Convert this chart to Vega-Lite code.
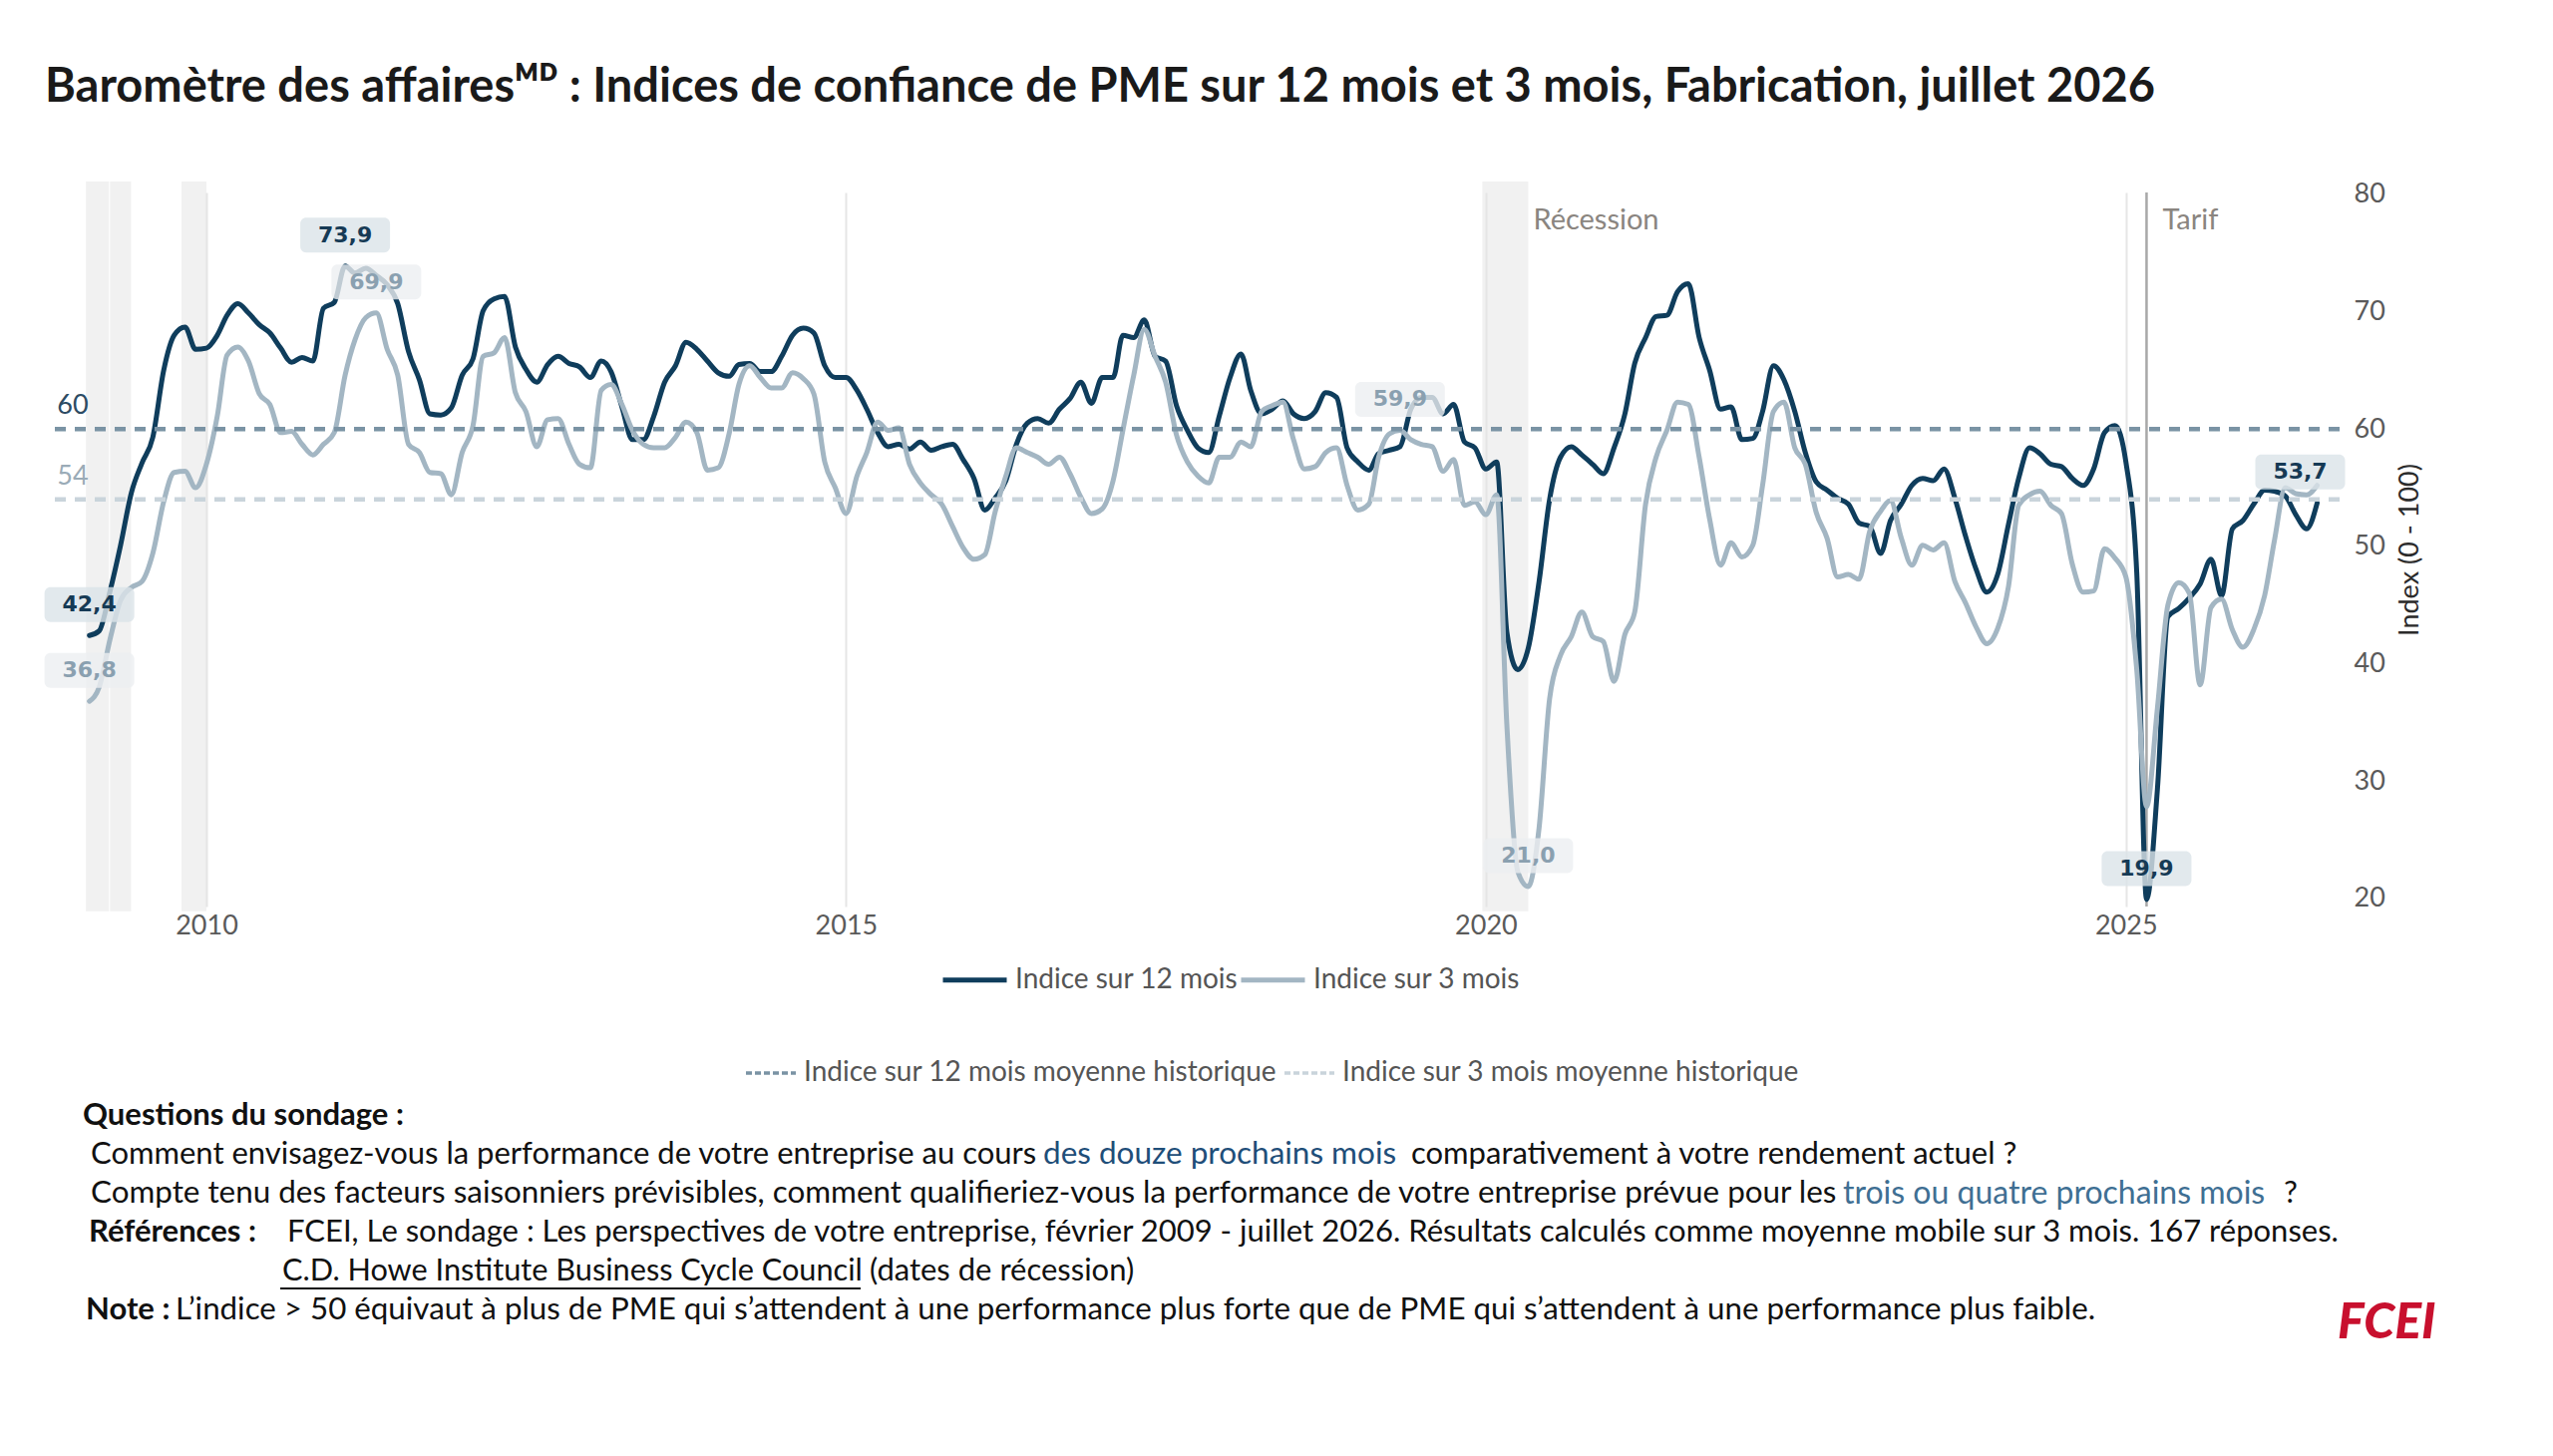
{
  "$schema": "https://vega.github.io/schema/vega-lite/v6.json",
  "background": "white",
  "padding": {"left": 44, "top": 63, "right": 10, "bottom": 10},
  "title": {
    "text": "Baromètre des affairesᴹᴰ : Indices de confiance de PME sur 12 mois et 3 mois, Fabrication, juillet 2026",
    "anchor": "start",
    "frame": "group",
    "dx": -6,
    "offset": 32,
    "baseline": "alphabetic",
    "font": "Lato",
    "fontSize": 47,
    "fontWeight": "bold",
    "color": "#1a1a1a"
  },
  "config": {
    "view": {"stroke": null},
    "font": "Lato",
    "locale": {"number": {"decimal": ",", "thousands": " ", "grouping": [3], "currency": ["", " $"]}}
  },
  "datasets": {
    "idx": [
      {"d":"2009-02-01","m12":42.4,"m3":36.8},{"d":"2009-03-01","m12":42.8,"m3":38.0},{"d":"2009-04-01","m12":46.2,"m3":42.1},
      {"d":"2009-05-01","m12":50.1,"m3":45.4},{"d":"2009-06-01","m12":54.6,"m3":46.5},{"d":"2009-07-01","m12":57.1,"m3":47.0},
      {"d":"2009-08-01","m12":59.3,"m3":49.4},{"d":"2009-09-01","m12":65.0,"m3":53.8},{"d":"2009-10-01","m12":68.0,"m3":56.3},
      {"d":"2009-11-01","m12":68.7,"m3":56.4},{"d":"2009-12-01","m12":66.8,"m3":55.0},{"d":"2010-01-01","m12":66.9,"m3":57.0},
      {"d":"2010-02-01","m12":68.0,"m3":61.1},{"d":"2010-03-01","m12":69.7,"m3":66.3},{"d":"2010-04-01","m12":70.7,"m3":67.0},
      {"d":"2010-05-01","m12":69.9,"m3":65.8},{"d":"2010-06-01","m12":68.9,"m3":63.0},{"d":"2010-07-01","m12":68.2,"m3":62.1},
      {"d":"2010-08-01","m12":66.9,"m3":59.7},{"d":"2010-09-01","m12":65.7,"m3":59.8},{"d":"2010-10-01","m12":66.1,"m3":58.7},
      {"d":"2010-11-01","m12":65.8,"m3":57.8},{"d":"2010-12-01","m12":70.3,"m3":58.7},{"d":"2011-01-01","m12":70.8,"m3":59.7},
      {"d":"2011-02-01","m12":73.9,"m3":64.6},{"d":"2011-03-01","m12":73.3,"m3":67.6},{"d":"2011-04-01","m12":73.7,"m3":69.5},
      {"d":"2011-05-01","m12":73.1,"m3":69.9},{"d":"2011-06-01","m12":72.3,"m3":66.8},{"d":"2011-07-01","m12":70.7,"m3":64.6},
      {"d":"2011-08-01","m12":66.6,"m3":58.7},{"d":"2011-09-01","m12":64.2,"m3":58.0},{"d":"2011-10-01","m12":61.3,"m3":56.3},
      {"d":"2011-11-01","m12":61.2,"m3":56.2},{"d":"2011-12-01","m12":61.8,"m3":54.4},{"d":"2012-01-01","m12":64.6,"m3":58.0},
      {"d":"2012-02-01","m12":66.0,"m3":60.3},{"d":"2012-03-01","m12":70.1,"m3":66.2},{"d":"2012-04-01","m12":71.1,"m3":66.5},
      {"d":"2012-05-01","m12":71.3,"m3":67.8},{"d":"2012-06-01","m12":67.0,"m3":63.1},{"d":"2012-07-01","m12":65.1,"m3":61.5},
      {"d":"2012-08-01","m12":64.0,"m3":58.5},{"d":"2012-09-01","m12":65.5,"m3":60.8},{"d":"2012-10-01","m12":66.2,"m3":60.9},
      {"d":"2012-11-01","m12":65.6,"m3":58.7},{"d":"2012-12-01","m12":65.3,"m3":57.0},{"d":"2013-01-01","m12":64.4,"m3":56.7},
      {"d":"2013-02-01","m12":65.8,"m3":63.3},{"d":"2013-03-01","m12":64.9,"m3":63.8},{"d":"2013-04-01","m12":61.9,"m3":62.1},
      {"d":"2013-05-01","m12":59.1,"m3":59.9},{"d":"2013-06-01","m12":59.1,"m3":58.7},{"d":"2013-07-01","m12":61.1,"m3":58.4},
      {"d":"2013-08-01","m12":64.0,"m3":58.4},{"d":"2013-09-01","m12":65.4,"m3":59.3},{"d":"2013-10-01","m12":67.4,"m3":60.6},
      {"d":"2013-11-01","m12":66.8,"m3":59.7},{"d":"2013-12-01","m12":65.8,"m3":56.5},{"d":"2014-01-01","m12":64.8,"m3":56.7},
      {"d":"2014-02-01","m12":64.5,"m3":59.6},{"d":"2014-03-01","m12":65.5,"m3":63.8},{"d":"2014-04-01","m12":65.6,"m3":65.4},
      {"d":"2014-05-01","m12":64.9,"m3":64.4},{"d":"2014-06-01","m12":64.9,"m3":63.5},{"d":"2014-07-01","m12":66.2,"m3":63.5},
      {"d":"2014-08-01","m12":68.0,"m3":64.8},{"d":"2014-09-01","m12":68.6,"m3":64.3},{"d":"2014-10-01","m12":68.2,"m3":63.0},
      {"d":"2014-11-01","m12":65.4,"m3":57.2},{"d":"2014-12-01","m12":64.4,"m3":55.0},{"d":"2015-01-01","m12":64.4,"m3":52.8},
      {"d":"2015-02-01","m12":63.3,"m3":56.0},{"d":"2015-03-01","m12":61.7,"m3":58.0},{"d":"2015-04-01","m12":59.7,"m3":60.6},
      {"d":"2015-05-01","m12":58.5,"m3":59.9},{"d":"2015-06-01","m12":58.7,"m3":60.1},{"d":"2015-07-01","m12":58.3,"m3":57.0},
      {"d":"2015-08-01","m12":58.9,"m3":55.4},{"d":"2015-09-01","m12":58.2,"m3":54.4},{"d":"2015-10-01","m12":58.5,"m3":53.6},
      {"d":"2015-11-01","m12":58.7,"m3":51.7},{"d":"2015-12-01","m12":57.4,"m3":49.9},{"d":"2016-01-01","m12":55.8,"m3":48.9},
      {"d":"2016-02-01","m12":53.1,"m3":49.3},{"d":"2016-03-01","m12":54.1,"m3":52.9},{"d":"2016-04-01","m12":55.6,"m3":56.0},
      {"d":"2016-05-01","m12":58.7,"m3":58.4},{"d":"2016-06-01","m12":60.5,"m3":58.0},{"d":"2016-07-01","m12":60.9,"m3":57.6},
      {"d":"2016-08-01","m12":60.5,"m3":57.0},{"d":"2016-09-01","m12":61.7,"m3":57.6},{"d":"2016-10-01","m12":62.6,"m3":56.2},
      {"d":"2016-11-01","m12":64.0,"m3":54.2},{"d":"2016-12-01","m12":62.2,"m3":52.8},{"d":"2017-01-01","m12":64.4,"m3":53.2},
      {"d":"2017-02-01","m12":64.4,"m3":55.6},{"d":"2017-03-01","m12":68.0,"m3":59.9},{"d":"2017-04-01","m12":67.8,"m3":64.6},
      {"d":"2017-05-01","m12":69.3,"m3":68.5},{"d":"2017-06-01","m12":66.2,"m3":66.2},{"d":"2017-07-01","m12":65.8,"m3":64.0},
      {"d":"2017-08-01","m12":62.0,"m3":59.5},{"d":"2017-09-01","m12":59.9,"m3":57.2},{"d":"2017-10-01","m12":58.4,"m3":56.0},
      {"d":"2017-11-01","m12":58.0,"m3":55.4},{"d":"2017-12-01","m12":61.1,"m3":57.6},{"d":"2018-01-01","m12":64.4,"m3":57.6},
      {"d":"2018-02-01","m12":66.4,"m3":58.9},{"d":"2018-03-01","m12":63.3,"m3":58.5},{"d":"2018-04-01","m12":61.3,"m3":61.5},
      {"d":"2018-05-01","m12":61.7,"m3":62.0},{"d":"2018-06-01","m12":62.4,"m3":62.3},{"d":"2018-07-01","m12":61.3,"m3":59.1},
      {"d":"2018-08-01","m12":60.9,"m3":56.6},{"d":"2018-09-01","m12":61.5,"m3":56.8},{"d":"2018-10-01","m12":63.1,"m3":58.0},
      {"d":"2018-11-01","m12":62.7,"m3":58.4},{"d":"2018-12-01","m12":58.4,"m3":55.2},{"d":"2019-01-01","m12":57.2,"m3":53.1},
      {"d":"2019-02-01","m12":56.5,"m3":53.6},{"d":"2019-03-01","m12":57.9,"m3":57.6},{"d":"2019-04-01","m12":58.2,"m3":59.6},
      {"d":"2019-05-01","m12":58.5,"m3":59.9},{"d":"2019-06-01","m12":61.7,"m3":59.1},{"d":"2019-07-01","m12":62.7,"m3":58.7},
      {"d":"2019-08-01","m12":62.7,"m3":58.5},{"d":"2019-09-01","m12":61.3,"m3":56.4},{"d":"2019-10-01","m12":62.1,"m3":57.4},
      {"d":"2019-11-01","m12":58.9,"m3":53.5},{"d":"2019-12-01","m12":58.4,"m3":53.8},{"d":"2020-01-01","m12":56.6,"m3":52.7},
      {"d":"2020-02-01","m12":57.2,"m3":54.4},{"d":"2020-03-01","m12":42.7,"m3":34.8},{"d":"2020-04-01","m12":39.5,"m3":22.3},
      {"d":"2020-05-01","m12":41.3,"m3":21.0},{"d":"2020-06-01","m12":47.0,"m3":26.0},{"d":"2020-07-01","m12":54.0,"m3":37.0},
      {"d":"2020-08-01","m12":57.6,"m3":40.7},{"d":"2020-09-01","m12":58.5,"m3":42.3},{"d":"2020-10-01","m12":57.8,"m3":44.4},
      {"d":"2020-11-01","m12":57.0,"m3":42.3},{"d":"2020-12-01","m12":56.2,"m3":41.9},{"d":"2021-01-01","m12":58.4,"m3":38.5},
      {"d":"2021-02-01","m12":61.3,"m3":42.5},{"d":"2021-03-01","m12":65.6,"m3":44.4},{"d":"2021-04-01","m12":67.8,"m3":53.6},
      {"d":"2021-05-01","m12":69.6,"m3":57.6},{"d":"2021-06-01","m12":69.7,"m3":59.9},{"d":"2021-07-01","m12":71.7,"m3":62.3},
      {"d":"2021-08-01","m12":72.4,"m3":62.1},{"d":"2021-09-01","m12":67.8,"m3":57.6},{"d":"2021-10-01","m12":65.0,"m3":52.3},
      {"d":"2021-11-01","m12":61.7,"m3":48.4},{"d":"2021-12-01","m12":61.9,"m3":50.3},{"d":"2022-01-01","m12":59.1,"m3":49.1},
      {"d":"2022-02-01","m12":59.2,"m3":50.1},{"d":"2022-03-01","m12":61.5,"m3":55.2},{"d":"2022-04-01","m12":65.4,"m3":61.5},
      {"d":"2022-05-01","m12":64.2,"m3":62.3},{"d":"2022-06-01","m12":61.5,"m3":58.4},{"d":"2022-07-01","m12":58.0,"m3":57.0},
      {"d":"2022-08-01","m12":55.5,"m3":52.9},{"d":"2022-09-01","m12":54.8,"m3":50.7},{"d":"2022-10-01","m12":54.1,"m3":47.4},
      {"d":"2022-11-01","m12":53.6,"m3":47.6},{"d":"2022-12-01","m12":52.0,"m3":47.2},{"d":"2023-01-01","m12":51.7,"m3":51.3},
      {"d":"2023-02-01","m12":49.4,"m3":53.0},{"d":"2023-03-01","m12":52.2,"m3":53.9},{"d":"2023-04-01","m12":53.6,"m3":50.7},
      {"d":"2023-05-01","m12":55.2,"m3":48.4},{"d":"2023-06-01","m12":55.8,"m3":50.1},{"d":"2023-07-01","m12":55.6,"m3":49.7},
      {"d":"2023-08-01","m12":56.6,"m3":50.3},{"d":"2023-09-01","m12":54.1,"m3":47.0},{"d":"2023-10-01","m12":50.9,"m3":45.2},
      {"d":"2023-11-01","m12":48.0,"m3":43.1},{"d":"2023-12-01","m12":46.1,"m3":41.7},{"d":"2024-01-01","m12":47.6,"m3":43.0},
      {"d":"2024-02-01","m12":51.9,"m3":46.6},{"d":"2024-03-01","m12":55.8,"m3":53.5},{"d":"2024-04-01","m12":58.4,"m3":54.4},
      {"d":"2024-05-01","m12":57.9,"m3":54.7},{"d":"2024-06-01","m12":57.0,"m3":53.5},{"d":"2024-07-01","m12":56.8,"m3":52.8},
      {"d":"2024-08-01","m12":55.8,"m3":48.5},{"d":"2024-09-01","m12":55.2,"m3":46.1},{"d":"2024-10-01","m12":56.6,"m3":46.2},
      {"d":"2024-11-01","m12":59.7,"m3":49.8},{"d":"2024-12-01","m12":60.3,"m3":49.0},{"d":"2025-01-01","m12":57.2,"m3":47.4},
      {"d":"2025-02-01","m12":47.8,"m3":39.5},{"d":"2025-03-01","m12":19.9,"m3":27.8},{"d":"2025-04-01","m12":29.3,"m3":36.2},
      {"d":"2025-05-01","m12":44.0,"m3":45.0},{"d":"2025-06-01","m12":44.7,"m3":46.9},{"d":"2025-07-01","m12":45.6,"m3":46.0},
      {"d":"2025-08-01","m12":46.8,"m3":38.2},{"d":"2025-09-01","m12":48.9,"m3":44.8},{"d":"2025-10-01","m12":45.8,"m3":45.5},
      {"d":"2025-11-01","m12":51.5,"m3":42.9},{"d":"2025-12-01","m12":52.2,"m3":41.4},{"d":"2026-01-01","m12":53.6,"m3":42.9},
      {"d":"2026-02-01","m12":54.8,"m3":45.8},{"d":"2026-03-01","m12":54.7,"m3":50.5},{"d":"2026-04-01","m12":54.3,"m3":55.0},
      {"d":"2026-05-01","m12":52.7,"m3":54.5},{"d":"2026-06-01","m12":51.5,"m3":54.4},{"d":"2026-07-01","m12":53.7,"m3":55.2}
    ],
    "rec": [
      {"start":"2009-01-22","end":"2009-03-29"},
      {"start":"2009-04-01","end":"2009-05-31"},
      {"start":"2009-10-22","end":"2010-01-01"},
      {"start":"2019-12-22","end":"2020-05-01"}
    ],
    "refs": [
      {"ref":"Indice sur 12 mois moyenne historique","v":60},
      {"ref":"Indice sur 3 mois moyenne historique","v":54}
    ],
    "events": [
      {"d":"2020-05-01","txt":"Récession"},
      {"d":"2025-03-01","txt":"Tarif"}
    ],
    "labels": [
      {"d":"2009-02-01","s":"m12","v":42.4},
      {"d":"2009-02-01","s":"m3","v":36.8},
      {"d":"2011-02-01","s":"m12","v":73.9},
      {"d":"2011-05-01","s":"m3","v":69.9},
      {"d":"2019-05-01","s":"m3","v":59.9},
      {"d":"2020-05-01","s":"m3","v":21.0},
      {"d":"2025-03-01","s":"m12","v":19.9},
      {"d":"2026-07-01","s":"m12","v":53.7}
    ],
    "notes": [
      {"k":"q","row":0,"t":"Questions du sondage :"},
      {"k":"c1","row":1,"t":"Comment envisagez-vous la performance de votre entreprise au cours"},
      {"k":"b1","row":1,"t":"des douze prochains mois"},
      {"k":"c2","row":1,"t":"comparativement à votre rendement actuel ?"},
      {"k":"d1","row":2,"t":"Compte tenu des facteurs saisonniers prévisibles, comment qualifieriez-vous la performance  de votre entreprise prévue pour les"},
      {"k":"b2","row":2,"t":"trois ou quatre prochains mois"},
      {"k":"d2","row":2,"t":"?"},
      {"k":"r","row":3,"t":"Références :"},
      {"k":"r2","row":3,"t":"FCEI, Le sondage : Les perspectives de votre entreprise, février 2009 - juillet 2026. Résultats calculés comme moyenne mobile sur 3 mois. 167 réponses."},
      {"k":"h","row":4,"t":"C.D. Howe Institute Business Cycle Council"},
      {"k":"h2","row":4,"t":"(dates de récession)"},
      {"k":"n","row":5,"t":"Note :"},
      {"k":"n2","row":5,"t":"L’indice > 50 équivaut à plus de PME qui s’attendent à une performance plus forte que de PME qui s’attendent à une performance plus faible."},
      {"k":"logo","row":5,"t":"FCEI"}
    ]
  },
  "spacing": 13,
  "resolve": {"legend": {"color": "independent"}},
  "vconcat": [
    {
      "width": 2295,
      "height": 716,
      "resolve": {"scale": {"color": "independent"}, "legend": {"color": "independent"}},
      "layer": [
        {
          "data": {"name": "rec"},
          "mark": {"type": "rect", "fill": "#e4e4e4", "opacity": 0.5},
          "encoding": {
            "x": {"field": "start", "type": "temporal", "title": null, "scale": {"domain": [{"year":2008,"month":10,"date":14},{"year":2026,"month":9,"date":3}]}},
            "x2": {"field": "end"},
            "y": {"datum": 81.1, "type": "quantitative", "scale": {"domain": [19.3, 80.17]}},
            "y2": {"datum": 18.9}
          }
        },
        {
          "data": {"name": "events"},
          "transform": [{"filter": "datum.txt == 'Tarif'"}],
          "mark": {"type": "rule", "color": "#a8a8a8", "strokeWidth": 2.5},
          "encoding": {
            "x": {"field": "d", "type": "temporal", "title": null, "scale": {"domain": [{"year":2008,"month":10,"date":14},{"year":2026,"month":9,"date":3}]}}
          }
        },
        {
          "data": {"name": "events"},
          "transform": [{"filter": "datum.txt == 'Récession'"}],
          "mark": {"type": "text", "align": "left", "baseline": "middle", "dx": 5, "fontSize": 29, "color": "#8a8580", "font": "Lato"},
          "encoding": {
            "x": {"field": "d", "type": "temporal", "title": null, "scale": {"domain": [{"year":2008,"month":10,"date":14},{"year":2026,"month":9,"date":3}]}},
            "y": {"datum": 77.8, "type": "quantitative", "scale": {"domain": [19.3, 80.17]}},
            "text": {"field": "txt"}
          }
        },
        {
          "data": {"name": "events"},
          "transform": [{"filter": "datum.txt == 'Tarif'"}],
          "mark": {"type": "text", "align": "left", "baseline": "middle", "dx": 16, "fontSize": 29, "color": "#8a8580", "font": "Lato"},
          "encoding": {
            "x": {"field": "d", "type": "temporal", "title": null, "scale": {"domain": [{"year":2008,"month":10,"date":14},{"year":2026,"month":9,"date":3}]}},
            "y": {"datum": 77.8, "type": "quantitative", "scale": {"domain": [19.3, 80.17]}},
            "text": {"field": "txt"}
          }
        },
        {
          "data": {"name": "idx"},
          "transform": [{"fold": ["m12", "m3"], "as": ["serie", "val"]}],
          "mark": {"type": "line", "strokeWidth": 5, "interpolate": "monotone", "strokeJoin": "round", "strokeCap": "round"},
          "encoding": {
            "x": {
              "field": "d", "type": "temporal", "title": null,
              "scale": {"domain": [{"year":2008,"month":10,"date":14},{"year":2026,"month":9,"date":3}]},
              "axis": {
                "values": [{"year": 2010}, {"year": 2015}, {"year": 2020}, {"year": 2025}],
                "format": "%Y", "title": null, "grid": true, "gridColor": "#e6e6e6", "gridWidth": 2,
                "domain": false, "ticks": false, "labelFontSize": 27, "labelColor": "#5a5a5a",
                "labelPadding": 6, "labelFont": "Lato"
              }
            },
            "y": {
              "field": "val", "type": "quantitative", "title": "Index (0 - 100)",
              "scale": {"domain": [19.3, 80.17]},
              "axis": {
                "orient": "right", "values": [20, 30, 40, 50, 60, 70, 80], "grid": false, "domain": false,
                "ticks": false, "labelFontSize": 27, "labelColor": "#5a5a5a", "labelPadding": 14,
                "labelFont": "Lato", "title": "Index (0 - 100)", "titleFontSize": 27,
                "titleFontWeight": "normal", "titleColor": "#2b2b2b", "titleAngle": 270,
                "titleBaseline": "top", "titlePadding": 12, "titleFont": "Lato"
              }
            },
            "color": {
              "field": "serie", "type": "nominal",
              "scale": {"domain": ["m12", "m3"], "range": ["#0f3d5c", "#a3b6c3"]},
              "legend": {
                "orient": "none", "legendX": 892, "legendY": 755, "direction": "horizontal",
                "title": null, "symbolType": "stroke", "symbolSize": 4096, "symbolStrokeWidth": 5,
                "labelFontSize": 28, "labelColor": "#555555", "labelFont": "Lato", "labelOffset": 6,
                "columnPadding": -9, "padding": 0, "labelLimit": 1000,
                "labelExpr": "datum.label == 'm12' ? 'Indice sur 12 mois' : 'Indice sur 3 mois'"
              }
            }
          }
        },
        {
          "data": {"name": "refs"},
          "mark": {"type": "rule", "strokeWidth": 4.5, "strokeDash": [11, 9]},
          "encoding": {
            "y": {"field": "v", "type": "quantitative", "scale": {"domain": [19.3, 80.17]}},
            "color": {
              "field": "ref", "type": "nominal",
              "scale": {"domain": ["Indice sur 12 mois moyenne historique", "Indice sur 3 mois moyenne historique"], "range": ["#7a93a4", "#c9d4db"]},
              "legend": {
                "orient": "none", "legendX": 695, "legendY": 856, "direction": "horizontal",
                "title": null, "symbolType": "stroke", "symbolSize": 2500, "symbolStrokeWidth": 3.5,
                "symbolDash": [6, 3], "labelFontSize": 28, "labelColor": "#555555", "labelFont": "Lato",
                "labelOffset": 6, "columnPadding": 0, "padding": 0, "labelLimit": 1000
              }
            }
          }
        },
        {
          "data": {"name": "refs"},
          "mark": {"type": "text", "align": "left", "baseline": "middle", "dy": -23, "fontSize": 27, "font": "Lato"},
          "encoding": {
            "x": {"datum": {"year": 2008, "month": 11, "date": 1}, "type": "temporal", "title": null, "scale": {"domain": [{"year":2008,"month":10,"date":14},{"year":2026,"month":9,"date":3}]}},
            "y": {"field": "v", "type": "quantitative", "scale": {"domain": [19.3, 80.17]}},
            "text": {"field": "v", "type": "quantitative", "format": ".0f"},
            "color": {"condition": {"test": "datum.v == 60", "value": "#2d4b63"}, "value": "#9aabb7"}
          }
        },
        {
          "data": {"name": "labels"},
          "transform": [{"filter": "year(datum.d) != 2026"}],
          "mark": {
            "type": "point", "filled": true, "opacity": 0.8, "strokeWidth": 0, "size": 8100,
            "shape": "M-0.867,-1.078 L0.867,-1.078 A0.133,0.133 0 0 1 1,-0.944 L1,-0.433 A0.133,0.133 0 0 1 0.867,-0.3 L-0.867,-0.3 A0.133,0.133 0 0 1 -1,-0.433 L-1,-0.944 A0.133,0.133 0 0 1 -0.867,-1.078 Z"
          },
          "encoding": {
            "x": {"field": "d", "type": "temporal", "title": null, "scale": {"domain": [{"year":2008,"month":10,"date":14},{"year":2026,"month":9,"date":3}]}},
            "y": {"field": "v", "type": "quantitative", "scale": {"domain": [19.3, 80.17]}},
            "color": {"condition": {"test": "datum.s == 'm12'", "value": "#dbe3e9"}, "value": "#eceff1"}
          }
        },
        {
          "data": {"name": "labels"},
          "transform": [{"filter": "year(datum.d) != 2026"}],
          "mark": {"type": "text", "align": "center", "baseline": "middle", "dy": -31, "fontSize": 22, "fontWeight": "bold", "font": "DejaVu Sans"},
          "encoding": {
            "x": {"field": "d", "type": "temporal", "title": null, "scale": {"domain": [{"year":2008,"month":10,"date":14},{"year":2026,"month":9,"date":3}]}},
            "y": {"field": "v", "type": "quantitative", "scale": {"domain": [19.3, 80.17]}},
            "text": {"field": "v", "type": "quantitative", "format": ".1f"},
            "color": {"condition": {"test": "datum.s == 'm12'", "value": "#163a55"}, "value": "#8aa0b0"}
          }
        },
        {
          "data": {"name": "labels"},
          "transform": [{"filter": "year(datum.d) == 2026"}],
          "mark": {
            "type": "point", "filled": true, "opacity": 0.8, "strokeWidth": 0, "size": 8100,
            "shape": "M-1.244,-1.078 L0.489,-1.078 A0.133,0.133 0 0 1 0.622,-0.944 L0.622,-0.433 A0.133,0.133 0 0 1 0.489,-0.3 L-1.244,-0.3 A0.133,0.133 0 0 1 -1.378,-0.433 L-1.378,-0.944 A0.133,0.133 0 0 1 -1.244,-1.078 Z"
          },
          "encoding": {
            "x": {"field": "d", "type": "temporal", "title": null, "scale": {"domain": [{"year":2008,"month":10,"date":14},{"year":2026,"month":9,"date":3}]}},
            "y": {"field": "v", "type": "quantitative", "scale": {"domain": [19.3, 80.17]}},
            "color": {"value": "#dbe3e9"}
          }
        },
        {
          "data": {"name": "labels"},
          "transform": [{"filter": "year(datum.d) == 2026"}],
          "mark": {"type": "text", "align": "center", "baseline": "middle", "dx": -17, "dy": -31, "fontSize": 22, "fontWeight": "bold", "font": "DejaVu Sans", "color": "#163a55"},
          "encoding": {
            "x": {"field": "d", "type": "temporal", "title": null, "scale": {"domain": [{"year":2008,"month":10,"date":14},{"year":2026,"month":9,"date":3}]}},
            "y": {"field": "v", "type": "quantitative", "scale": {"domain": [19.3, 80.17]}},
            "text": {"field": "v", "type": "quantitative", "format": ".1f"}
          }
        }
      ]
    },
    {
      "width": 2295,
      "height": 195,
      "data": {"name": "notes"},
      "encoding": {
        "x": {"value": 0},
        "y": {"field": "row", "type": "ordinal", "scale": {"type": "point", "padding": 0, "domain": [0, 1, 2, 3, 4, 5]}, "axis": null}
      },
      "layer": [
        {"transform": [{"filter": "datum.k == 'q'"}], "mark": {"type": "text", "align": "left", "baseline": "middle", "dx": 32, "fontSize": 31, "fontWeight": "bold", "color": "#111111", "font": "Lato"}, "encoding": {"text": {"field": "t"}}},
        {"transform": [{"filter": "datum.k == 'c1'"}], "mark": {"type": "text", "align": "left", "baseline": "middle", "dx": 40, "fontSize": 31, "color": "#111111", "font": "Lato"}, "encoding": {"text": {"field": "t"}}},
        {"transform": [{"filter": "datum.k == 'd1'"}], "mark": {"type": "text", "align": "left", "baseline": "middle", "dx": 40, "fontSize": 31.4, "color": "#111111", "font": "Lato"}, "encoding": {"text": {"field": "t"}}},
        {"transform": [{"filter": "datum.k == 'b1'"}], "mark": {"type": "text", "align": "left", "baseline": "middle", "dx": 995, "fontSize": 31.5, "color": "#1f4e79", "font": "Lato"}, "encoding": {"text": {"field": "t"}}},
        {"transform": [{"filter": "datum.k == 'c2'"}], "mark": {"type": "text", "align": "left", "baseline": "middle", "dx": 1364, "fontSize": 31, "color": "#111111", "font": "Lato"}, "encoding": {"text": {"field": "t"}}},
        {"transform": [{"filter": "datum.k == 'b2'"}], "mark": {"type": "text", "align": "left", "baseline": "middle", "dx": 1797, "fontSize": 32, "color": "#3f6f93", "font": "Lato"}, "encoding": {"text": {"field": "t"}}},
        {"transform": [{"filter": "datum.k == 'd2'"}], "mark": {"type": "text", "align": "left", "baseline": "middle", "dx": 2239, "fontSize": 31, "color": "#111111", "font": "Lato"}, "encoding": {"text": {"field": "t"}}},
        {"transform": [{"filter": "datum.k == 'r'"}], "mark": {"type": "text", "align": "left", "baseline": "middle", "dx": 38, "fontSize": 31, "fontWeight": "bold", "color": "#111111", "font": "Lato"}, "encoding": {"text": {"field": "t"}}},
        {"transform": [{"filter": "datum.k == 'r2'"}], "mark": {"type": "text", "align": "left", "baseline": "middle", "dx": 237, "fontSize": 31, "color": "#111111", "font": "Lato"}, "encoding": {"text": {"field": "t"}}},
        {"transform": [{"filter": "datum.k == 'h'"}], "mark": {"type": "text", "align": "left", "baseline": "middle", "dx": 232, "fontSize": 30.7, "color": "#111111", "font": "Lato"}, "encoding": {"text": {"field": "t"}}},
        {"transform": [{"filter": "datum.k == 'h'"}], "mark": {"type": "rule", "strokeWidth": 2, "color": "#111111", "yOffset": 17}, "encoding": {"x": {"value": 230}, "x2": {"value": 812}}},
        {"transform": [{"filter": "datum.k == 'h2'"}], "mark": {"type": "text", "align": "left", "baseline": "middle", "dx": 821, "fontSize": 31, "color": "#111111", "font": "Lato"}, "encoding": {"text": {"field": "t"}}},
        {"transform": [{"filter": "datum.k == 'n'"}], "mark": {"type": "text", "align": "left", "baseline": "middle", "dx": 35, "fontSize": 31, "fontWeight": "bold", "color": "#111111", "font": "Lato"}, "encoding": {"text": {"field": "t"}}},
        {"transform": [{"filter": "datum.k == 'n2'"}], "mark": {"type": "text", "align": "left", "baseline": "middle", "dx": 125, "fontSize": 31.3, "color": "#111111", "font": "Lato"}, "encoding": {"text": {"field": "t"}}},
        {"transform": [{"filter": "datum.k == 'logo'"}], "mark": {"type": "text", "align": "left", "baseline": "middle", "dx": 2293, "dy": 13, "fontSize": 50, "fontWeight": 900, "fontStyle": "italic", "color": "#c8102e", "font": "Lato"}, "encoding": {"text": {"field": "t"}}}
      ]
    }
  ]
}
